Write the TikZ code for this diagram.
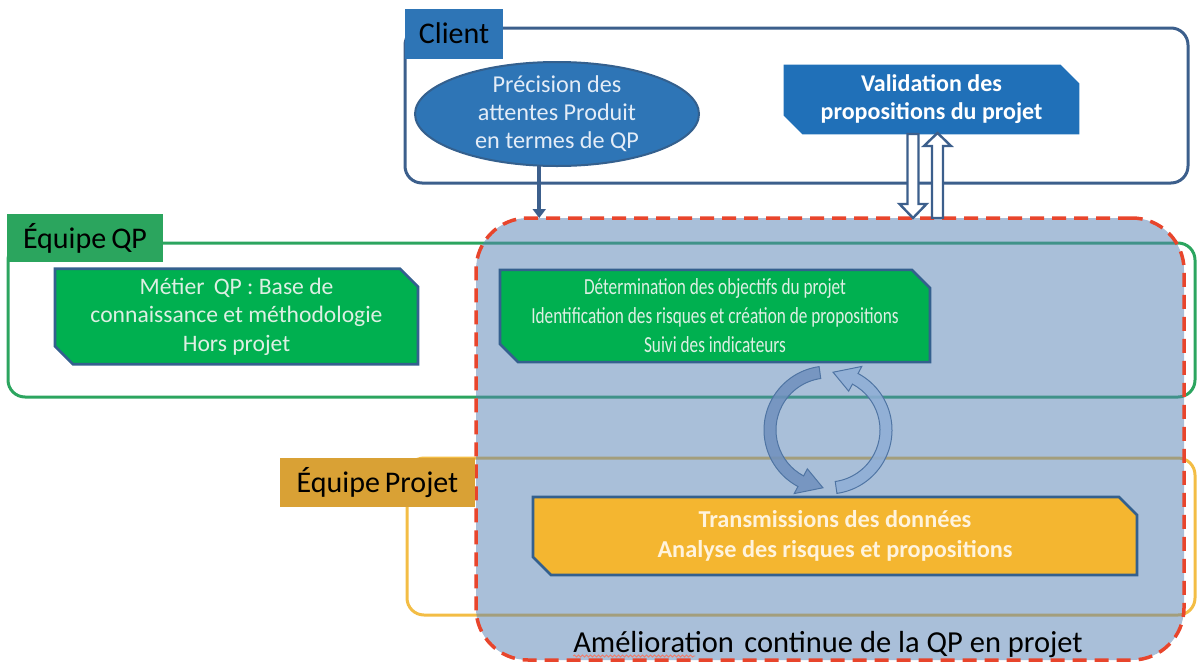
\documentclass[tikz,border=0pt]{standalone}
\usepackage{fontspec}
\setmainfont{Carlito}
\newfontfamily\condfont[FakeStretch=0.75]{Carlito}
\usetikzlibrary{shapes.geometric,shapes.misc,arrows.meta,calc,decorations.pathmorphing}
\definecolor{cliblue}{HTML}{2E75B6}
\definecolor{valblue}{HTML}{2070B8}
\definecolor{cliline}{HTML}{3C5F8C}
\definecolor{edge}{HTML}{34608E}
\definecolor{qplab}{HTML}{2BA55E}
\definecolor{qpline}{HTML}{2CA55F}
\definecolor{qpbox}{HTML}{00B050}
\definecolor{prlab}{HTML}{D9A135}
\definecolor{prline}{HTML}{F3BD45}
\definecolor{prbox}{HTML}{F4B630}
\definecolor{redd}{HTML}{E8452C}
\definecolor{regfill}{HTML}{5480B3}
\definecolor{paleg}{HTML}{DDEFE3}
\definecolor{paleb}{HTML}{E3ECF7}
\definecolor{paleo}{HTML}{FFF3DC}
\definecolor{arrA}{HTML}{6F90BD}
\definecolor{arrB}{HTML}{8EAED6}
\definecolor{arrE}{HTML}{4F74A3}
\begin{document}
\begin{tikzpicture}[x=1pt,y=-1pt,
  every node/.style={outer sep=0pt},
  frame/.style={draw, line width=3pt, rounded corners=17pt, minimum width=#1},
  lab/.style={inner sep=0pt, font=\fontsize{30}{36}\selectfont, text=black},
  snip/.style={chamfered rectangle, chamfered rectangle corners={north east,south west},
    chamfered rectangle xsep=9pt, chamfered rectangle ysep=9pt,
    draw=edge, line width=2.6pt, inner sep=0pt, align=center,
    font=\fontsize{23.6}{28.5}\selectfont},
  blarrow/.style={draw=cliline, line width=3.5pt, -{Triangle[length=9pt,width=13pt]}},
  hollow/.style={draw=cliline, line width=2.4pt, fill=white, line join=miter},
  circarr/.style={draw=arrE, line width=1pt, fill opacity=0.85}
]
\useasboundingbox (0,0) rectangle (1197,662);

% group frames
\node[frame=783pt, draw=cliline, minimum height=155pt] (cli) at (796.5,105.5) {};
\node[frame=1187pt, draw=qpline, minimum height=154pt] (qp) at (601.5,320) {};
\node[frame=788pt, draw=prline, minimum height=157pt] (proj) at (801,536.5) {};

% improvement region
\node[draw=redd, line width=3.5pt, dash pattern=on 14pt off 8pt, fill=regfill, fill opacity=0.5,
  draw opacity=1, rounded corners=52pt, minimum width=708pt, minimum height=442pt] (reg) at (830,439) {};

% group labels
\node[lab, fill=cliblue, minimum width=98pt, minimum height=50pt] (clilab) at (454,33.5) {Client};
\node[lab, fill=qplab, minimum width=156pt, minimum height=48pt] (qplabel) at (85,238) {Équipe\,QP};
\node[lab, fill=prlab, minimum width=195pt, minimum height=49pt] (prlabel) at (377.5,482.5) {Équipe\,Projet};

% client items
\node[ellipse, draw=edge, line width=2pt, fill=cliblue, minimum width=284pt, minimum height=104pt, inner sep=0pt] (ell) at (557,114) {};
\node[align=center, text=paleb, inner sep=0pt, font=\fontsize{24.2}{28}\selectfont] (elltxt) at (ell.center) {Précision des\\attentes Produit\\en termes de QP};
\node[snip, fill=valblue, draw=valblue, minimum width=293pt, minimum height=65pt, text=white,
  font=\fontsize{24}{28}\selectfont\bfseries] (val) at (931.5,99.5) {Validation des\\propositions du projet};

% QP items
\node[snip, fill=qpbox, text=paleg, minimum width=363pt, minimum height=91pt] (met) at (236.5,316.5)
  {Métier\, QP : Base de\\connaissance et méthodologie\\Hors projet};
\node[snip, fill=qpbox, text=paleg, minimum width=430pt, minimum height=88pt,
  font=\fontsize{23}{29}\selectfont\condfont] (det) at (715,316)
  {Détermination des objectifs du projet\\Identification des risques et création de propositions\\Suivi des indicateurs};

% Project item
\node[snip, fill=prbox, text=paleo, minimum width=604pt, minimum height=78pt,
  font=\fontsize{24.3}{30}\selectfont\bfseries] (tra) at (835,536)
  {Transmissions des données\\Analyse des risques et propositions};

% arrows from client
\draw[blarrow] (ell.251) -- (ell.251 |- reg.north);

\coordinate (dn) at ([xshift=-18.5pt]val.south);
\coordinate (up) at ([xshift=6pt]val.south);
\draw[hollow] ($(dn)+(-5.5,1)$) -- ($(dn |- reg.north)+(-5.5,-14)$) -- ++(-8,0)
  -- (dn |- reg.north) -- ($(dn |- reg.north)+(13.5,-14)$) -- ++(-8,0) -- ($(dn)+(5.5,1)$) -- cycle;
\draw[hollow] ($(up |- reg.north)+(-5.5,0)$) -- ($(up)+(-5.5,13)$) -- ++(-8,0)
  -- (up) -- ($(up)+(13.5,13)$) -- ++(-8,0) -- ($(up |- reg.north)+(5.5,0)$) -- cycle;

% cycle arrows
\coordinate (cyc) at (828,430);
\draw[circarr, fill=arrA] ($(cyc)+(262:64)$) arc[start angle=262, end angle=118, radius=64]
  -- ($(cyc)+(118:72)$) -- ($(cyc)+(95:58)$) -- ($(cyc)+(118:44)$) -- ($(cyc)+(118:52)$)
  arc[start angle=118, end angle=262, radius=52] -- cycle;
\draw[circarr, fill=arrB] ($(cyc)+(82:64)$) arc[start angle=82, end angle=-62, radius=64]
  -- ($(cyc)+(-62:72)$) -- ($(cyc)+(-85:58)$) -- ($(cyc)+(-62:44)$) -- ($(cyc)+(-62:52)$)
  arc[start angle=-62, end angle=82, radius=52] -- cycle;

% caption
\node[anchor=base, inner sep=0pt, font=\fontsize{30.5}{34}\selectfont] (amel) at (828,652)
  {Amélioration\hspace{0.12em} continue de la QP en projet};
\draw[redd!70, line width=0.9pt, decorate, decoration={snake, amplitude=1pt, segment length=4pt}]
  ($(amel.base west)+(0,4)$) -- ($(amel.base west)+(122,4)$);
\end{tikzpicture}
\end{document}
